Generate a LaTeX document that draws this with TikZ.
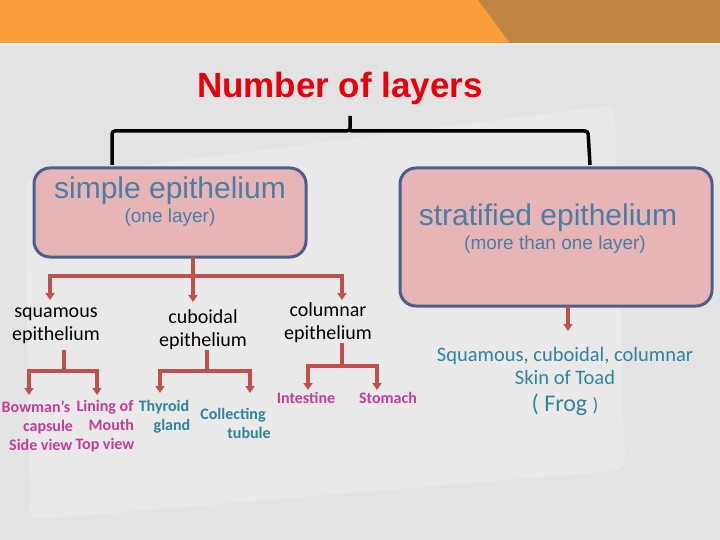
\documentclass[tikz,border=0pt]{standalone}
\usepackage{fontspec}
\setmainfont{Carlito}
\newfontfamily\arial{Liberation Sans}
\definecolor{bg}{HTML}{E3E3E3}
\definecolor{panel}{HTML}{E9E9E9}
\definecolor{orng}{HTML}{F99D38}
\definecolor{brwn}{HTML}{C08443}
\definecolor{boxfill}{HTML}{E8B5B6}
\definecolor{boxline}{HTML}{4A5F8E}
\definecolor{ttl}{HTML}{E8000B}
\definecolor{steel}{HTML}{4A7EA6}
\definecolor{arr}{HTML}{C0504D}
\definecolor{mag}{HTML}{C43D98}
\definecolor{teal}{HTML}{31849B}
\usetikzlibrary{arrows.meta}
\tikzset{
  pbox/.style={draw=boxline,line width=3pt,fill=boxfill,rounded corners=16pt},
  rarr/.style={draw=arr,line width=3.5pt,-{Triangle[length=7pt,width=9pt]}},
  rline/.style={draw=arr,line width=3.5pt},
  lbl/.style={font=\fontsize{20}{23}\selectfont,align=center,inner sep=0pt},
  mg/.style={font=\bfseries\fontsize{16}{19}\selectfont,text=mag,align=center,inner sep=0pt},
  tl/.style={font=\bfseries\fontsize{16}{19}\selectfont,text=teal,align=center,inner sep=0pt},
}
\begin{document}
\begin{tikzpicture}[x=1pt,y=-1pt]
\useasboundingbox (0,0) rectangle (720,540);
\fill[bg] (0,0) rectangle (720,540);
\fill[panel,rounded corners=10pt] (25,180) -- (615,105) -- (625,470) -- (30,520) -- cycle;
\fill[orng] (0,0) rectangle (720,43);
\fill[brwn] (478,0) -- (720,0) -- (720,43) -- (510,43) -- cycle;
\fill[white,opacity=0.5] (0,43) rectangle (720,45);
\node[font=\arial\bfseries\fontsize{35}{38}\selectfont,text=ttl,inner sep=0pt] (title) at (340,88) {Number of layers};
\coordinate (bt) at (350,116);
\coordinate (bl) at (112,165);
\coordinate (br) at (590,165);
\draw[line width=3.5pt,rounded corners=3pt] (bt) -- (350,131) -- (112,131) -- (bl);
\draw[line width=3.5pt,rounded corners=3pt] (350,131) -- (588,131) -- (br);
\draw[pbox] (34,168) rectangle (306,257);
\draw[pbox] (400,168) rectangle (712,306);
\node[font=\arial\fontsize{30}{32}\selectfont,text=steel,inner sep=0pt] (s1) at (170,191) {simple epithelium};
\node[font=\arial\fontsize{19}{21}\selectfont,text=steel,inner sep=0pt] (s2) at (170,218) {(one layer)};
\node[font=\arial\fontsize{30}{32}\selectfont,text=steel,inner sep=0pt] (t1) at (548,218) {stratified epithelium};
\node[font=\arial\fontsize{19}{21}\selectfont,text=steel,inner sep=0pt] (t2) at (555,245) {(more than one layer)};
% level 2
\node[lbl] (sq) at (56,326) {squamous\\epithelium};
\node[lbl] (cu) at (203,330) {cuboidal\\epithelium};
\node[lbl] (co) at (328,323) {columnar\\epithelium};
\coordinate (b1) at (193,257);
\draw[rline] (b1) -- (193,276);
\draw[rline] (48.25,276) -- (343.75,276);
\draw[rarr] (50,275) -- (50,300);
\draw[rarr] (193,275) -- (193,302);
\draw[rarr] (342,275) -- (342,300);
% level 3 squamous
\node[mg] (bo) at (36,426) {Bowman’s\\\hspace*{1.5em}capsule\\\hspace*{0.6em}Side view};
\node[mg] (li) at (105,426) {Lining of\\\hspace*{0.8em}Mouth\\Top view};
\draw[rline] (64,350) -- (64,371);
\draw[rline] (27.25,371) -- (98.75,371);
\draw[rarr] (29,370) -- (29,395);
\draw[rarr] (97,370) -- (97,395);
% cuboidal
\node[tl] (th) at (164,417) {Thyroid\\\hspace*{1em}gland};
\node[tl] (cl) at (233,423) {Collecting\\\hspace*{2em}tubule};
\draw[rline] (207,350) -- (207,371);
\draw[rline] (158.25,371) -- (251.75,371);
\draw[rarr] (160,370) -- (160,393);
\draw[rarr] (250,370) -- (250,393);
% columnar
\node[mg] (in) at (306,398) {Intestine};
\node[mg] (st) at (388,398) {Stomach};
\draw[rline] (342,343) -- (342,366);
\draw[rline] (306.25,366) -- (378.75,366);
\draw[rarr] (308,365) -- (308,390);
\draw[rarr] (377,365) -- (377,390);
% stratified
\coordinate (b2) at (568,306);
\draw[rarr] (b2) -- (568,331);
\node[font=\fontsize{20.5}{23}\selectfont,text=teal,align=center,inner sep=0pt] (sk) at (565,366) {Squamous, cuboidal, columnar\\Skin of Toad};
\node[font=\fontsize{24}{26}\selectfont,text=teal,inner sep=0pt] (fr) at (565,405) {( Frog {\fontsize{19}{20}\selectfont)}};
\end{tikzpicture}
\end{document}
